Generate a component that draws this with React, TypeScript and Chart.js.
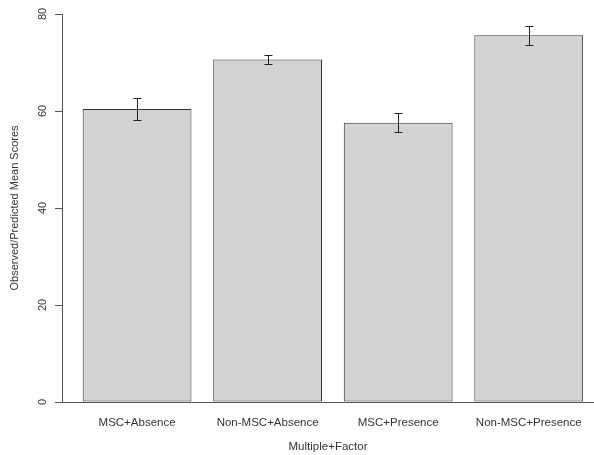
import React, { useEffect, useRef } from "react";
import { Chart, registerables } from "chart.js";

Chart.register(...registerables);

// ---- data ----
const categories = ["MSC+Absence", "Non-MSC+Absence", "MSC+Presence", "Non-MSC+Presence"];
const means = [60.4, 70.6, 57.6, 75.6];
const errors = [2.3, 1.0, 1.9, 1.9];
const yTicks = [0, 20, 40, 60, 80];
const xTitle = "Multiple+Factor";
const yTitle = "Observed/Predicted Mean Scores";

// R barplot convention: bar width 1, space 0.2
const BAR_W = 1;
const SPACE = 0.2;
const centers = categories.map((_, i) => SPACE + BAR_W / 2 + i * (BAR_W + SPACE));

const FONT = "'Liberation Sans', Arial, sans-serif";
const TEXT = "#333";
const AXIS = "#555";

const errorBarPlugin = {
  id: "errorBars",
  afterDatasetsDraw(chart: any) {
    const ctx = chart.ctx;
    const meta = chart.getDatasetMeta(0);
    const ys = chart.scales.y;
    ctx.save();
    ctx.strokeStyle = "#222";
    ctx.lineWidth = 1;
    meta.data.forEach((bar: any, i: number) => {
      const x = Math.round(bar.x) + 0.5;
      const yHi = Math.round(ys.getPixelForValue(means[i] + errors[i])) + 0.5;
      const yLo = Math.round(ys.getPixelForValue(means[i] - errors[i])) + 0.5;
      const cap = 4;
      ctx.beginPath();
      ctx.moveTo(x, yHi);
      ctx.lineTo(x, yLo);
      ctx.moveTo(x - cap, yHi);
      ctx.lineTo(x + cap, yHi);
      ctx.moveTo(x - cap, yLo);
      ctx.lineTo(x + cap, yLo);
      ctx.stroke();
    });
    ctx.restore();
  },
};

export default function App() {
  const ref = useRef<HTMLCanvasElement | null>(null);

  useEffect(() => {
    document.body.style.margin = "0";
    const canvas = ref.current;
    if (!canvas) return;
    const chart = new Chart(canvas, {
      type: "bar",
      data: {
        datasets: [
          {
            data: categories.map((_, i) => ({ x: centers[i], y: means[i] })),
            backgroundColor: "#d3d3d3",
            borderColor: "#333",
            borderWidth: 1,
            borderSkipped: false,
            categoryPercentage: 1,
            barPercentage: BAR_W / (BAR_W + SPACE),
          } as any,
        ],
      },
      options: {
        animation: false,
        responsive: false,
        events: [],
        layout: { padding: { top: 14, left: 0, right: 0, bottom: 0 } },
        plugins: { legend: { display: false }, tooltip: { enabled: false } },
        scales: {
          x: {
            type: "linear",
            offset: false,
            min: 0.01,
            max: 4.9,
            afterBuildTicks: (scale: any) => {
              scale.ticks = centers.map((v) => ({ value: v }));
            },
            afterFit: (scale: any) => {
              scale.height = 53;
            },
            grid: { display: false },
            border: { display: true, color: AXIS, width: 1 },
            ticks: {
              autoSkip: false,
              maxRotation: 0,
              minRotation: 0,
              padding: 6,
              color: TEXT,
              font: { family: FONT, size: 11.5 },
              callback: (_v: any, i: number) => categories[i],
            },
            title: {
              display: true,
              text: xTitle,
              color: TEXT,
              font: { family: FONT, size: 11.5 },
              padding: { top: 0, bottom: 1 },
            },
          },
          y: {
            min: 0,
            max: 80,
            afterBuildTicks: (scale: any) => {
              scale.ticks = yTicks.map((v) => ({ value: v }));
            },
            afterFit: (scale: any) => {
              scale.width = 62;
            },
            grid: {
              display: true,
              drawOnChartArea: false,
              drawTicks: true,
              tickLength: 7,
              color: AXIS,
            },
            border: { display: true, color: AXIS, width: 1 },
            ticks: {
              minRotation: 90,
              maxRotation: 90,
              crossAlign: "center",
              padding: 6,
              color: TEXT,
              font: { family: FONT, size: 11 },
            },
            title: {
              display: true,
              text: yTitle,
              color: TEXT,
              font: { family: FONT, size: 11 },
              padding: { top: 8, bottom: 0 },
            },
          },
        },
      },
      plugins: [errorBarPlugin],
    } as any);
    return () => chart.destroy();
  }, []);

  return (
    <div style={{ width: 594, height: 455, background: "#fff" }}>
      <canvas ref={ref} width={594} height={455} />
    </div>
  );
}
